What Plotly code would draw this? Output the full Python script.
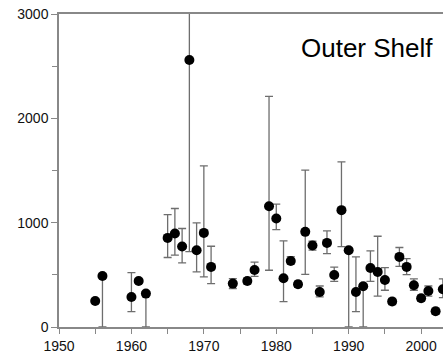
import plotly.graph_objects as go

years = [1955, 1956, 1960, 1961, 1962, 1965, 1966, 1967, 1968, 1969, 1970, 1971,
         1974, 1976, 1977, 1979, 1980, 1981, 1982, 1983, 1984, 1985, 1986, 1987,
         1988, 1989, 1990, 1991, 1992, 1993, 1994, 1995, 1996, 1997, 1998, 1999,
         2000, 2001, 2002, 2003]
values = [250, 489, 288, 441, 320, 854, 896, 771, 2559, 736, 902, 576,
          416, 441, 547, 1158, 1040, 467, 633, 410, 912, 781, 336, 806,
          499, 1120, 736, 336, 390, 566, 528, 451, 244, 672, 576, 400,
          275, 345, 151, 362]
err_plus = [20, 20, 234, 20, 20, 224, 240, 173, 700, 262, 643, 198,
            48, 30, 74, 1052, 137, 358, 41, 30, 591, 41, 57, 115,
            74, 463, 20, 336, 20, 163, 342, 119, 30, 90, 80, 61,
            30, 48, 30, 100]
err_minus = [20, 489, 140, 20, 320, 188, 208, 157, 1836, 208, 422, 160,
             48, 30, 61, 614, 106, 224, 30, 30, 407, 45, 48, 102,
             61, 349, 736, 188, 390, 128, 233, 99, 30, 90, 74, 48,
             30, 50, 30, 80]

x_ticks = [1950, 1960, 1970, 1980, 1990, 2000]
y_ticks = [0, 1000, 2000, 3000]
label = "Outer Shelf"

fig = go.Figure()
fig.add_trace(go.Scatter(
    x=years, y=values, mode="markers",
    marker=dict(size=10, color="rgba(0,0,0,0)"),
    error_y=dict(type="data", symmetric=False, array=err_plus, arrayminus=err_minus,
                 color="#6e6e6e", thickness=1.3, width=4),
    cliponaxis=True, showlegend=False, hoverinfo="skip"))
fig.add_trace(go.Scatter(
    x=years, y=values, mode="markers",
    marker=dict(size=10, color="black"),
    cliponaxis=False, showlegend=False))

axis_font = dict(family="Liberation Sans, Arial, sans-serif", size=14, color="#111")
fig.update_layout(
    width=443, height=355,
    margin=dict(l=59, r=0, t=14, b=28),
    plot_bgcolor="white", paper_bgcolor="white",
    font=axis_font,
    xaxis=dict(range=[1950, 2003.02], tickvals=x_ticks, ticks="outside", ticklen=5,
               tickcolor="#888", tickwidth=1, showline=True, linecolor="#888",
               linewidth=1.5, mirror=True, showgrid=False, zeroline=False,
               ticklabelstandoff=0, automargin=False,
               minor=dict(dtick=5, ticks="outside", ticklen=5, tickcolor="#888"),
               tickfont=axis_font),
    yaxis=dict(range=[0, 3000], tickvals=y_ticks, ticks="outside", ticklen=6,
               tickcolor="#888", tickwidth=1, showline=True, linecolor="#888",
               linewidth=1.5, showgrid=False, zeroline=False, automargin=False,
               minor=dict(dtick=500, ticks="outside", ticklen=5, tickcolor="#888"),
               tickfont=axis_font),
    annotations=[dict(text=label, x=0.8008, y=0.891, xref="paper", yref="paper",
                      xanchor="center", yanchor="middle", showarrow=False,
                      font=dict(family="Liberation Sans, Arial, sans-serif",
                                size=26, color="black"))],
)
fig.write_html("out.html")
